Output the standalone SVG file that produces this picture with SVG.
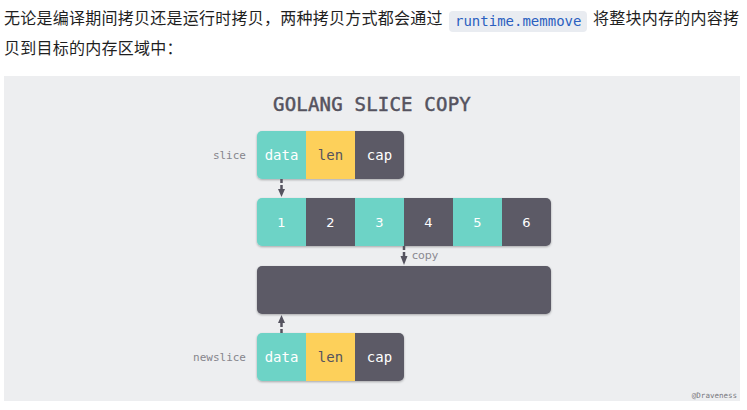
<svg xmlns="http://www.w3.org/2000/svg" width="747" height="410" viewBox="0 0 747 410">
<style>
.cjk{font-family:"Noto Sans CJK SC","Noto Sans",sans-serif;font-size:16px;fill:#1f1f1f;letter-spacing:0.25px}
.code{font-family:"DejaVu Sans Mono","Liberation Mono",monospace;font-size:14px;fill:#2b5fc0}
.title{font-family:"DejaVu Sans Mono","Liberation Mono",monospace;font-size:19px;fill:#55535f;stroke:#55535f;stroke-width:0.5;letter-spacing:0.2px}
.lbl{font-family:"DejaVu Sans Mono","Liberation Mono",monospace;font-size:11px;fill:#86858c;text-anchor:end}
.cell{font-family:"DejaVu Sans Mono","Liberation Mono",monospace;font-size:14px;text-anchor:middle}
.num{font-family:"DejaVu Sans","Open Sans",sans-serif;font-size:13px;fill:#ffffff;text-anchor:middle}
.w{fill:#ffffff}
.d{fill:#55535f}
.teal{fill:#6dd3c6}
.yel{fill:#fdd05a}
.dark{fill:#5c5a66}
.stem{stroke:#55535f;stroke-width:2.5;stroke-dasharray:4 2;fill:none}
.head{fill:#55535f}
</style>
<defs>
<filter id="sh" x="-5%" y="-10%" width="110%" height="130%">
<feDropShadow dx="0" dy="1" stdDeviation="1" flood-color="#000" flood-opacity="0.3"/>
</filter>
<clipPath id="c1"><rect x="257" y="131" width="147" height="48" rx="5"/></clipPath>
<clipPath id="c2"><rect x="257" y="198" width="294" height="48" rx="5"/></clipPath>
<clipPath id="c3"><rect x="257" y="333" width="147" height="48" rx="5"/></clipPath>
</defs>
<rect width="747" height="410" fill="#ffffff"/>
<g id="paragraph">
<text class="cjk" x="4" y="24">无论是编译期间拷贝还是运行时拷贝，两种拷贝方式都会通过</text>
<rect x="449" y="11" width="138" height="21" rx="4" fill="#e9ecf1"/>
<text class="code" x="455" y="26">runtime.memmove</text>
<text class="cjk" x="593" y="24">将整块内存的内容拷</text>
<text class="cjk" x="4" y="54">贝到目标的内存区域中：</text>
</g>
<rect id="figure-bg" x="4" y="76" width="736" height="325" fill="#edeef0"/>
<text class="title" x="372" y="111" text-anchor="middle">GOLANG SLICE COPY</text>
<g id="slice">
<text class="lbl" x="246" y="159">slice</text>
<g filter="url(#sh)"><g clip-path="url(#c1)">
<rect class="teal" x="257" y="131" width="49" height="48"/>
<rect class="yel" x="306" y="131" width="49" height="48"/>
<rect class="dark" x="355" y="131" width="49" height="48"/>
</g></g>
<text class="cell w" x="281.5" y="160">data</text>
<text class="cell d" x="330.5" y="160">len</text>
<text class="cell w" x="379.5" y="160">cap</text>
</g>
<g id="array">
<g filter="url(#sh)"><g clip-path="url(#c2)">
<rect class="teal" x="257" y="198" width="49" height="48"/>
<rect class="dark" x="306" y="198" width="49" height="48"/>
<rect class="teal" x="355" y="198" width="49" height="48"/>
<rect class="dark" x="404" y="198" width="49" height="48"/>
<rect class="teal" x="453" y="198" width="49" height="48"/>
<rect class="dark" x="502" y="198" width="49" height="48"/>
</g></g>
<text class="num" x="281.5" y="227">1</text>
<text class="num" x="330.5" y="227">2</text>
<text class="num" x="379.5" y="227">3</text>
<text class="num" x="428.5" y="227">4</text>
<text class="num" x="477.5" y="227">5</text>
<text class="num" x="526.5" y="227">6</text>
</g>
<g id="new-array">
<rect class="dark" x="257" y="266" width="294" height="48" rx="5" filter="url(#sh)"/>
</g>
<g id="newslice">
<text class="lbl" x="246" y="361">newslice</text>
<g filter="url(#sh)"><g clip-path="url(#c3)">
<rect class="teal" x="257" y="333" width="49" height="48"/>
<rect class="yel" x="306" y="333" width="49" height="48"/>
<rect class="dark" x="355" y="333" width="49" height="48"/>
</g></g>
<text class="cell w" x="281.5" y="362">data</text>
<text class="cell d" x="330.5" y="362">len</text>
<text class="cell w" x="379.5" y="362">cap</text>
</g>
<g id="connectors">
<line class="stem" x1="281.5" y1="179" x2="281.5" y2="190"/>
<path class="head" d="M278,189 L285,189 L281.5,197 Z"/>
<line class="stem" x1="404" y1="246" x2="404" y2="257"/>
<path class="head" d="M400.5,256 L407.5,256 L404,265 Z"/>
<text x="412" y="259" font-family="DejaVu Sans,Open Sans,sans-serif" font-size="11" fill="#8a8990">copy</text>
<line class="stem" x1="281.5" y1="333" x2="281.5" y2="322"/>
<path class="head" d="M278,323 L285,323 L281.5,315 Z"/>
</g>
<text x="737" y="398" text-anchor="end" font-family="DejaVu Sans Mono,monospace" font-size="7.5" fill="#77767d">@Draveness</text>
</svg>
